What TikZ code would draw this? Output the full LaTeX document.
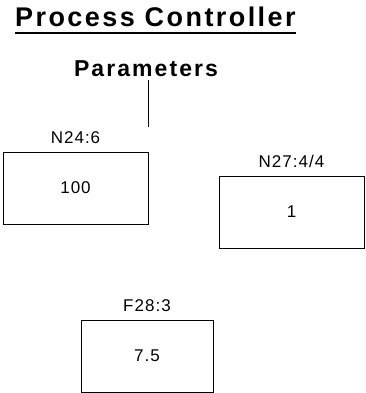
\documentclass[tikz,border=0pt]{standalone}
\usepackage{fontspec}
\setmainfont{Liberation Sans}
\newfontfamily\labelfont[LetterSpace=6]{Liberation Sans}
\newfontfamily\headfont[LetterSpace=9]{Liberation Sans}
\usetikzlibrary{positioning}

\begin{document}
\begin{tikzpicture}[
    x=1pt, y=-1pt,
    node distance=8pt,
    regbox/.style={rectangle, draw=black, line width=1pt, fill=white,
                minimum height=72pt, align=center,
                font=\labelfont\fontsize{17}{20}\selectfont},
    addr/.style={inner sep=0pt, text depth=0pt, anchor=south,
                font=\labelfont\fontsize{17}{20}\selectfont},
    line/.style={line width=1pt, color=black}
]
\useasboundingbox (0,0) rectangle (365,393);
\node[inner sep=0pt, text depth=0pt, anchor=base west,
      font=\headfont\bfseries\fontsize{27}{30}\selectfont] (title) at (15,27) {Process Controller};
\draw[line width=2pt] ([yshift=-6pt]title.south west) -- ([yshift=-6pt]title.south east);
\node[inner sep=0pt, text depth=0pt, anchor=base,
      font=\headfont\bfseries\fontsize{23}{26}\selectfont] (params) at (146,77) {Parameters};
\node[regbox, minimum width=145pt] (n24) at (75.5,188) {100};
\node[regbox, minimum width=145pt] (n27) at (291.5,212) {1};
\node[regbox, minimum width=132pt] (f28) at (147,356) {7.5};
\node[addr, above=8pt of n24] (n24lbl) {N24:6};
\node[addr, above=8pt of n27] (n27lbl) {N27:4/4};
\node[addr, above=8pt of f28] (f28lbl) {F28:3};
\coordinate (tap) at (148,127);
\draw[line] (params.south -| tap) ++(0,3) -- (tap);
\end{tikzpicture}
\end{document}
